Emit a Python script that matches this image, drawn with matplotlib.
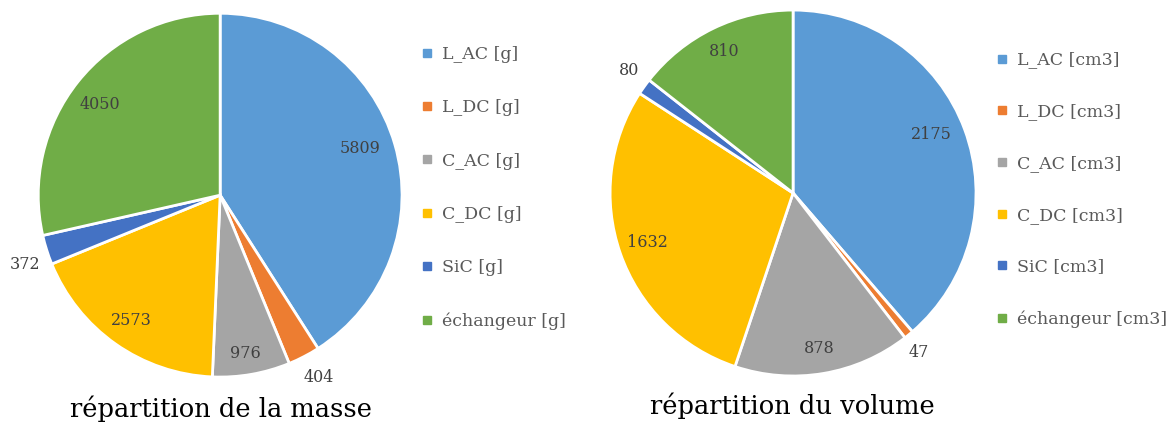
import numpy as np
import matplotlib.pyplot as plt
from matplotlib.lines import Line2D

plt.rcParams['font.family'] = ['DejaVu Serif']

# component names and values
names = ['L_AC', 'L_DC', 'C_AC', 'C_DC', 'SiC', 'échangeur']
masse = [5809, 404, 976, 2573, 372, 4050]
volume = [2175, 47, 878, 1632, 80, 810]
colors = ['#5B9BD5', '#ED7D31', '#A5A5A5', '#FFC000', '#4472C4', '#70AD47']

# data label placement: fraction of radius, angle shift from wedge middle (deg)
r_masse = [0.81, 1.14, 0.88, 0.845, 1.14, 0.83]
a_masse = [2, 1, -1, 0, 2, 1.5]
r_volume = [0.82, 1.11, 0.86, 0.84, 1.12, 0.86]
a_volume = [2.5, -1, 0, -0.5, -1.3, 0]

fig = plt.figure(figsize=(11.71, 4.28), dpi=100)
ax1 = fig.add_axes([0.0325, 0.119, 0.311, 0.850])
ax2 = fig.add_axes([0.521, 0.1215, 0.3125, 0.855])


def draw_pie(ax, vals, rads, shifts, unit, title, leg_pos, title_pos, spacing):
    wedges, _ = ax.pie(vals, colors=colors, startangle=90, counterclock=False,
                       wedgeprops=dict(edgecolor='white', linewidth=2))
    for w, v, r, s in zip(wedges, vals, rads, shifts):
        ang = np.deg2rad((w.theta1 + w.theta2) / 2 + s)
        ax.text(r * np.cos(ang), r * np.sin(ang), str(v), ha='center', va='center',
                fontsize=11.5, color='#404040')
    ax.set_xlim(-1, 1)
    ax.set_ylim(-1, 1)
    ax.set_aspect('equal')
    handles = [Line2D([], [], marker='s', linestyle='none', markersize=6,
                      markerfacecolor=c, markeredgecolor=c) for c in colors]
    labels = [f'{n} [{unit}]' for n in names]
    fig.legend(handles, labels, loc='upper left', bbox_to_anchor=leg_pos,
               frameon=False, fontsize=12.5, labelspacing=spacing, handlelength=0.8,
               handletextpad=0.5, labelcolor='#595959')
    fig.text(title_pos[0], title_pos[1], title, ha='center', va='center',
             fontsize=18.5, color='black')


draw_pie(ax1, masse, r_masse, a_masse, 'g', 'répartition de la masse',
         (0.345, 0.93), (0.189, 0.045), 2.1)
draw_pie(ax2, volume, r_volume, a_volume, 'cm3', 'répartition du volume',
         (0.836, 0.916), (0.677, 0.053), 2.0)

fig.savefig('out.png', dpi=100)
